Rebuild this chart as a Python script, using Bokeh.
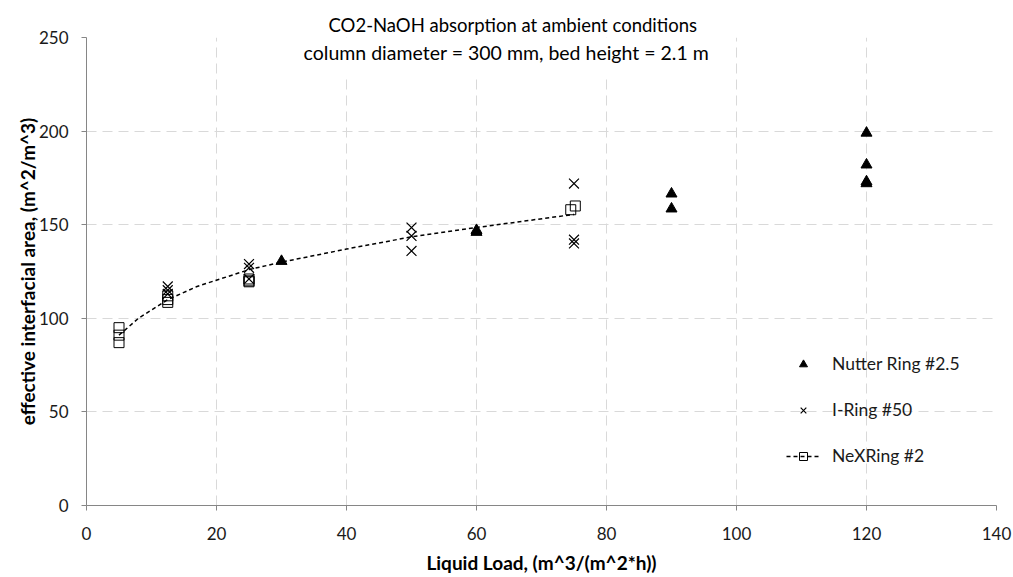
from bokeh.plotting import figure
from bokeh.models import Range1d, Label, BoxAnnotation, Legend, LegendItem, FixedTicker
from bokeh.embed import file_html
from bokeh.resources import INLINE

# ---- data ----
nutter_x = [30, 60, 60, 90, 90, 120, 120, 120, 120]
nutter_y = [130.5, 147, 146, 166.5, 158.5, 199, 182, 172, 173]

iring_x = [12.5, 12.5, 12.5, 25, 25, 25, 50, 50, 50, 75, 75, 75]
iring_y = [117, 115, 113, 129, 127, 121, 148.5, 144, 136, 172, 142, 140]

nex_x = [5, 5, 5, 12.5, 12.5, 12.5, 25, 25, 25, 74.5, 75.2]
nex_y = [95, 91, 87, 112, 110, 108.5, 121, 120, 119.5, 158, 160]

trend_x = [5, 8, 12.5, 17, 25, 30, 40, 50, 60, 75]
trend_y = [91, 100, 110, 117, 126, 130, 137, 143.5, 148.5, 155.5]

x_ticks = [0, 20, 40, 60, 80, 100, 120, 140]
y_ticks = [0, 50, 100, 150, 200, 250]

title_lines = ["CO2-NaOH absorption at ambient conditions",
               "column diameter = 300 mm, bed height = 2.1 m"]
x_label = "Liquid Load, (m^3/(m^2*h))"
y_label = "effective interfacial area, (m^2/m^3)"
series_names = ["Nutter Ring #2.5", "I-Ring #50", "NeXRing #2"]

FONT = "Lato"

p = figure(width=1013, height=577, output_backend="svg", toolbar_location=None,
           x_range=Range1d(0, 140), y_range=Range1d(0, 250))
p.min_border_left = 86
p.min_border_right = 17
p.min_border_top = 37
p.min_border_bottom = 72
p.outline_line_color = None
p.background_fill_color = "white"
p.border_fill_color = "white"

p.title.text = title_lines[0]
p.title.align = "left"
p.title.offset = 242
p.title.text_font = FONT
p.title.text_font_size = "18.5px"
p.title.text_font_style = "normal"
p.title.text_color = "black"
p.title.standoff = 4

for ax in (p.xaxis[0], p.yaxis[0]):
    ax.axis_line_color = "#868686"
    ax.major_tick_line_color = "#868686"
    ax.minor_tick_line_color = None
    ax.major_tick_out = 5
    ax.major_tick_in = 0
    ax.major_label_text_font = FONT
    ax.major_label_text_font_size = "17px"
    ax.major_label_text_color = "#1a1a1a"
    ax.axis_label_text_font = FONT
    ax.axis_label_text_font_style = "bold"
    ax.axis_label_text_font_size = "19px"
    ax.axis_label_text_color = "#000000"

p.xaxis.ticker = FixedTicker(ticks=x_ticks)
p.yaxis.ticker = FixedTicker(ticks=y_ticks)
p.xaxis.axis_label = x_label
p.yaxis.axis_label = y_label
p.xaxis.major_label_standoff = 16
p.xaxis.axis_label_standoff = 8
p.yaxis.major_label_standoff = 13
p.yaxis.axis_label_standoff = -3

for g in (p.xgrid[0], p.ygrid[0]):
    g.grid_line_color = "#d9d9d9"
    g.grid_line_dash = "10 6"
    g.grid_line_width = 1
p.xgrid.ticker = FixedTicker(ticks=x_ticks)
p.ygrid.ticker = FixedTicker(ticks=y_ticks)

# white box behind the title (interrupts the grid)
p.add_layout(BoxAnnotation(left=32.5, right=96.8, bottom=228, top=None,
                           fill_color="white", fill_alpha=1.0, line_color=None,
                           level="underlay"))

r_nut = p.scatter(nutter_x, nutter_y, marker="triangle", size=11,
                  fill_color="black", line_color="black")
r_ir = p.scatter(iring_x, iring_y, marker="x", size=14,
                 line_color="black", line_width=1.2)
r_tr = p.line(trend_x, trend_y, line_color="black", line_width=1.5, line_dash="4 3")
r_nex = p.scatter(nex_x, nex_y, marker="square", size=10,
                  fill_alpha=0, line_color="black", line_width=1)

legend = Legend(items=[
    LegendItem(label=series_names[0], renderers=[r_nut]),
    LegendItem(label=series_names[1], renderers=[r_ir]),
    LegendItem(label=series_names[2], renderers=[r_tr, r_nex]),
], location=(700, 39))
legend.border_line_color = None
legend.background_fill_alpha = 0
legend.label_text_font = FONT
legend.label_text_font_size = "17.5px"
legend.label_text_color = "#1a1a1a"
legend.glyph_width = 34
legend.glyph_height = 20
legend.label_height = 21
legend.spacing = 25
legend.label_standoff = 12
legend.padding = 10
legend.margin = 0
p.add_layout(legend)

p.add_layout(Label(x=64.6, y=242, text=title_lines[1], text_align="center",
                   text_baseline="middle", text_font=FONT, text_font_size="19.5px",
                   text_color="black"))

open("out.html", "w").write(file_html(p, INLINE))
